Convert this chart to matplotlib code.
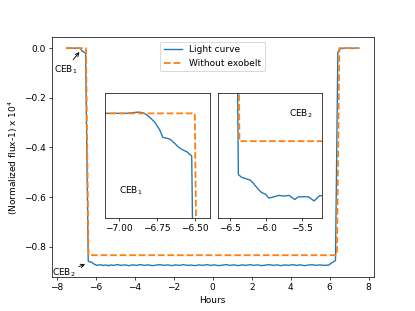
import matplotlib
matplotlib.use("Agg")
import matplotlib.pyplot as plt

# Light curve (hours, normalized flux-1 x 1e4)
lc_x_ingress = [-7.5, -7.3, -7.1, -7.0, -6.95, -6.9, -6.87, -6.84, -6.81, -6.78, -6.76,
                -6.73, -6.71, -6.68, -6.66, -6.63, -6.61, -6.58, -6.55, -6.52,
                -6.385, -6.34, -6.28, -6.22, -6.18, -6.15, -6.1, -6.06, -6.01, -5.96,
                -5.89, -5.82, -5.75, -5.68, -5.6, -5.55, -5.48, -5.41, -5.33, -5.25]
lc_y_ingress = [0.0, 0.0, 0.0, 0.0, 0.0, 0.0004, 0.0006, 0.0003, -0.001, -0.003, -0.0045,
                -0.008, -0.0115, -0.012, -0.0125, -0.0145, -0.016, -0.0175, -0.0185, -0.0205,
                -0.859, -0.861, -0.862, -0.863, -0.865, -0.867, -0.870, -0.872, -0.873, -0.876,
                -0.875, -0.874, -0.8745, -0.874, -0.877, -0.875, -0.875, -0.875, -0.878, -0.874]
lc_x_plateau = [-5.1, -4.9, -4.7, -4.5, -4.3, -4.1, -3.9, -3.7, -3.5, -3.3, -3.1,
                -2.9, -2.7, -2.5, -2.3, -2.1, -1.9, -1.7, -1.5, -1.3, -1.1, -0.9,
                -0.7, -0.5, -0.3, -0.1, 0.1, 0.3, 0.5, 0.7, 0.9, 1.1, 1.3, 1.5,
                1.7, 1.9, 2.1, 2.3, 2.5, 2.7, 2.9, 3.1, 3.3, 3.5, 3.7, 3.9, 4.1,
                4.3, 4.5, 4.7, 4.9, 5.1, 5.3, 5.5, 5.7]
lc_y_plateau = [-0.876, -0.873, -0.876, -0.874, -0.877, -0.874, -0.876, -0.873, -0.876,
                -0.874, -0.877, -0.875, -0.873, -0.876, -0.874, -0.877, -0.874, -0.876,
                -0.873, -0.876, -0.875, -0.877, -0.874, -0.876, -0.873, -0.876, -0.874,
                -0.877, -0.875, -0.873, -0.876, -0.874, -0.877, -0.874, -0.876, -0.873,
                -0.876, -0.874, -0.877, -0.875, -0.873, -0.876, -0.874, -0.877, -0.874,
                -0.876, -0.873, -0.876, -0.874, -0.877, -0.875, -0.873, -0.876, -0.874,
                -0.876]
lc_x_egress = [5.95, 6.1, 6.3, 6.42, 6.45, 6.5, 6.6, 6.7, 7.0, 7.5]
lc_y_egress = [-0.875, -0.866, -0.857, -0.02, -0.012, -0.006, -0.001, 0.0, 0.0, 0.0]

lc_x = lc_x_ingress + lc_x_plateau + lc_x_egress
lc_y = lc_y_ingress + lc_y_plateau + lc_y_egress

# Model without exobelt
nb_x = [-7.5, -6.5, -6.37, 6.37, 6.5, 7.5]
nb_y = [0.0, 0.0, -0.835, -0.835, 0.0, 0.0]

fig = plt.figure(figsize=(6.4, 4.8), dpi=415 / 6.4)
ax = fig.add_axes([0.125, 0.11, 0.775, 0.77])
ax.plot(lc_x, lc_y, color="C0", lw=1.5, label="Light curve")
ax.plot(nb_x, nb_y, color="C1", ls="--", lw=2, label="Without exobelt")
ax.set_xlabel("Hours")
ax.set_ylabel("(Normalized flux-1) x 10$^4$")
ax.set_xticks([-8, -6, -4, -2, 0, 2, 4, 6, 8])
ax.set_yticks([0.0, -0.2, -0.4, -0.6, -0.8])
ax.legend(loc="upper center")

ax.annotate("CEB$_1$", xy=(-6.78, -0.01), xytext=(-7.55, -0.085),
            ha="center", va="center", arrowprops=dict(arrowstyle="->", color="black"))
ax.annotate("CEB$_2$", xy=(-6.46, -0.869), xytext=(-7.65, -0.905),
            ha="center", va="center", arrowprops=dict(arrowstyle="->", color="black"))

ins1 = fig.add_axes([0.253, 0.30, 0.253, 0.402])
ins1.plot(lc_x, lc_y, color="C0", lw=1.5)
ins1.plot(nb_x, nb_y, color="C1", ls="--", lw=2)
ins1.set_xlim(-7.09, -6.40)
ins1.set_ylim(-0.05, 0.01)
ins1.set_xticks([-7.0, -6.75, -6.5])
ins1.set_yticks([])
ins1.text(0.25, 0.22, "CEB$_1$", transform=ins1.transAxes, ha="center", va="center")

ins2 = fig.add_axes([0.525, 0.30, 0.251, 0.402])
ins2.plot(lc_x, lc_y, color="C0", lw=1.5)
ins2.plot(nb_x, nb_y, color="C1", ls="--", lw=2)
ins2.set_xlim(-6.67, -5.22)
ins2.set_ylim(-0.89, -0.80)
ins2.set_xticks([-6.5, -6.0, -5.5])
ins2.set_yticks([])
ins2.text(0.8, 0.83, "CEB$_2$", transform=ins2.transAxes, ha="center", va="center")

fig.savefig("out.png", dpi=415 / 6.4)
